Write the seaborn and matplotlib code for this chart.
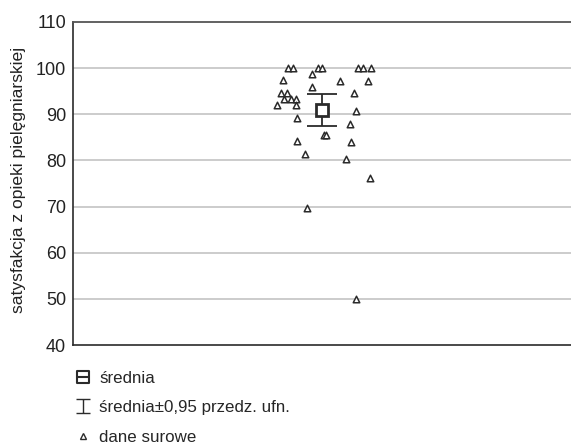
import numpy as np
import pandas as pd
import matplotlib
matplotlib.use("Agg")
import matplotlib.pyplot as plt
from matplotlib.lines import Line2D
from matplotlib.path import Path
import seaborn as sns

# ----------------------------
# DATA
# ----------------------------
# horizontal jitter of each raw point (axis units, 0 = group centre) and its value
jitter = [-0.137, -0.117, -0.157, -0.165, -0.141, -0.153, -0.125, -0.104, -0.181, -0.104,
          -0.100, -0.100, -0.068, -0.060,
          -0.016, 0.000, -0.040, -0.040, 0.008, 0.016,
          0.072, 0.096, 0.112, 0.116, 0.129, 0.137, 0.145, 0.165, 0.197, 0.185, 0.193, 0.137]
satisfaction = [100, 100, 97.4, 94.7, 94.7, 93.3, 93.3, 93.3, 92.0, 92.0,
                89.3, 84.2, 81.5, 69.6,
                100, 100, 98.7, 96.0, 85.5, 85.5,
                97.3, 80.3, 88.0, 84.1, 94.7, 90.8, 100, 100, 100, 97.3, 76.3, 49.9]
mean_value = [90.9]
ci_low = [87.5]
ci_high = [94.3]
y_ticks = [40, 50, 60, 70, 80, 90, 100, 110]

labels = ["średnia", "średnia±0,95 przedz. ufn.", "dane surowe"]
y_label = "satysfakcja z opieki pielęgniarskiej"

# ----------------------------
# STYLE
# ----------------------------
sns.set_style("white")
plt.rcParams["font.family"] = ["Liberation Sans", "DejaVu Sans"]

DARK = "#2b2b2b"
GRID = "#c4c4c4"

df = pd.DataFrame({"x": jitter, "y": satisfaction})

fig = plt.figure(figsize=(5.71, 4.48), dpi=100)
ax = fig.add_axes([73 / 571, 1 - 345 / 448, 1 - 73 / 571, (345 - 22) / 448])

# grid lines (inner ticks only)
for t in y_ticks[1:-1]:
    ax.axhline(t, color=GRID, lw=1.2, zorder=0)

# raw data
sns.scatterplot(data=df, x="x", y="y", marker="^", s=22, facecolor="white",
                edgecolor=DARK, linewidth=1.1, ax=ax, zorder=3, legend=False)

# confidence interval
m = np.array(mean_value)
err = np.array([m - np.array(ci_low), np.array(ci_high) - m])
ax.errorbar([0], m, yerr=err, fmt="none", ecolor=DARK, elinewidth=1.3,
            capsize=10.5, capthick=1.3, zorder=4)

# mean
ax.plot([0], m, marker="s", ms=9, mfc="white", mec=DARK, mew=2.0, ls="none", zorder=5)

ax.set_xlim(-1, 1)
ax.set_ylim(40, 110)
ax.set_yticks(y_ticks)
ax.set_xticks([])
ax.set_xlabel("")
ax.set_ylabel(y_label, fontsize=12.6, color="#222222")
ax.yaxis.set_label_coords(-0.095, 0.51)
ax.tick_params(axis="y", length=0, pad=5, labelsize=13, labelcolor="#222222")

for side in ["left", "bottom"]:
    ax.spines[side].set_color(DARK)
    ax.spines[side].set_linewidth(1.2)
ax.spines["top"].set_color("#555555")
ax.spines["top"].set_linewidth(1.3)
ax.spines["right"].set_visible(False)

# ----------------------------
# LEGEND
# ----------------------------
box_minus = Path([(-1, -1), (1, -1), (1, 1), (-1, 1), (-1, -1), (-1, 0), (1, 0)],
                 [Path.MOVETO, Path.LINETO, Path.LINETO, Path.LINETO, Path.CLOSEPOLY,
                  Path.MOVETO, Path.LINETO])
i_beam = Path([(-1, 1), (1, 1), (0, 1), (0, -1), (-1, -1), (1, -1)],
              [Path.MOVETO, Path.LINETO, Path.MOVETO, Path.LINETO, Path.MOVETO, Path.LINETO])

h_mean = Line2D([], [], marker=box_minus, ms=8, mfc="none", mec=DARK, mew=1.5, ls="none")
h_ci = Line2D([], [], marker=i_beam, ms=10, mfc="none", mec=DARK, mew=1.0, ls="none")
h_raw = Line2D([], [], marker="^", ms=5, mfc="white", mec=DARK, mew=1.0, ls="none")

fig.legend([h_mean, h_ci, h_raw], labels, loc="upper left",
           bbox_to_anchor=(68 / 571, 1 - 364 / 448), frameon=False,
           fontsize=12.2, labelspacing=0.85, handlelength=1.0, handletextpad=0.45,
           borderaxespad=0)

fig.savefig("out.png", dpi=100)
